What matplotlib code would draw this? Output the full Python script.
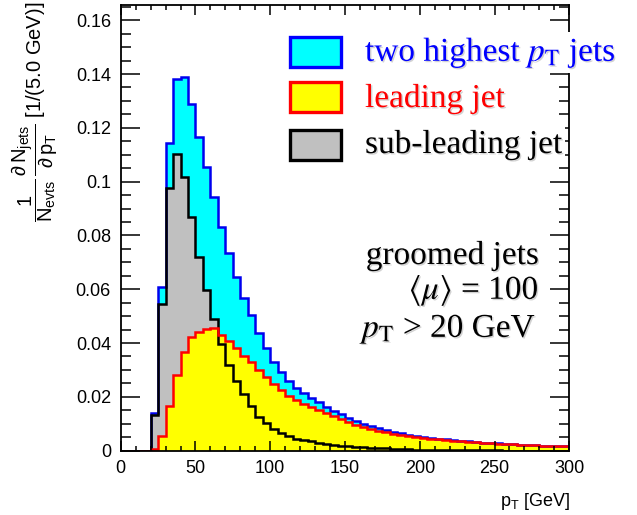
import numpy as np
import matplotlib.pyplot as plt
import matplotlib.patheffects as pe
from matplotlib.patches import Rectangle
from matplotlib.ticker import MultipleLocator, FuncFormatter

plt.rcParams['font.family'] = ['Liberation Sans', 'DejaVu Sans']
plt.rcParams['mathtext.fontset'] = 'custom'
plt.rcParams['mathtext.rm'] = 'Liberation Sans'
plt.rcParams['mathtext.it'] = 'Liberation Sans:italic'

# 5 GeV bins from 0 to 300 GeV
edges = np.arange(0, 305, 5)

two_highest = [0, 0, 0, 0, 0.0139, 0.0609, 0.1142, 0.1381, 0.1390, 0.1287,
               0.1166, 0.1055, 0.0943, 0.0830, 0.0735, 0.0647, 0.0566, 0.0504, 0.0438, 0.0380,
               0.0330, 0.0292, 0.0258, 0.0232, 0.0214, 0.0197, 0.0179, 0.0163, 0.0148, 0.0135,
               0.0123, 0.0111, 0.0100, 0.0091, 0.0083, 0.0076, 0.0070, 0.0064, 0.0059, 0.0055,
               0.0051, 0.0048, 0.0045, 0.0042, 0.0039, 0.0037, 0.0034, 0.0032, 0.0030, 0.0028,
               0.0027, 0.0025, 0.0024, 0.0022, 0.0021, 0.0020, 0.0019, 0.0018, 0.0017, 0.0016]

leading = [0, 0, 0, 0, 0.0006, 0.0056, 0.0165, 0.0281, 0.0368, 0.0421,
           0.0440, 0.0453, 0.0455, 0.0428, 0.0408, 0.0380, 0.0351, 0.0328, 0.0298, 0.0273,
           0.0247, 0.0224, 0.0204, 0.0188, 0.0175, 0.0163, 0.0151, 0.0139, 0.0127, 0.0116,
           0.0107, 0.0097, 0.0088, 0.0081, 0.0074, 0.0068, 0.0063, 0.0058, 0.0054, 0.0051,
           0.0047, 0.0045, 0.0042, 0.0040, 0.0037, 0.0035, 0.0033, 0.0031, 0.0029, 0.0027,
           0.0026, 0.0025, 0.0024, 0.0022, 0.0021, 0.0020, 0.0019, 0.0018, 0.0017, 0.0016]

sub_leading = [0, 0, 0, 0, 0.0132, 0.0545, 0.0975, 0.1101, 0.1018, 0.0867,
               0.0721, 0.0596, 0.0488, 0.0395, 0.0318, 0.0258, 0.0210, 0.0166, 0.0126, 0.0101,
               0.0080, 0.0065, 0.0053, 0.0045, 0.0039, 0.0034, 0.0029, 0.0025, 0.0022, 0.0019,
               0.0016, 0.0014, 0.0012, 0.0010, 0.0009, 0.0008, 0.0007, 0.0006, 0.0005, 0.0004,
               0.0004, 0.0003, 0.0003, 0.0002, 0.0002, 0.0002, 0.0001, 0.0001, 0.0001, 0.0001,
               0.0001, 0, 0, 0, 0, 0, 0, 0, 0, 0]

legend_labels = ['two highest $p_{\\mathrm{T}}$ jets', 'leading jet', 'sub-leading jet']
legend_text_colors = ['#0000ff', '#ff0000', 'black']
legend_face = ['#00ffff', '#ffff00', '#c0c0c0']
legend_edge = ['#0000ff', '#ff0000', 'black']

fig = plt.figure(figsize=(6.37, 5.15), dpi=100)
ax = fig.add_axes([0.1895, 0.125, 0.7042, 0.865])

# fills first, then outlines on top
ax.stairs(two_highest, edges, fill=True, color='#00ffff', lw=0)
ax.stairs(sub_leading, edges, fill=True, color='#c0c0c0', lw=0)
ax.stairs(leading, edges, fill=True, color='#ffff00', lw=0)
ax.stairs(two_highest, edges, color='#0000ee', lw=1.8)
ax.stairs(sub_leading, edges, color='black', lw=1.8)
ax.stairs(leading, edges, color='#ff0000', lw=1.8)

ax.set_xlim(0, 300)
ax.set_ylim(0, 0.1656)
ax.xaxis.set_major_locator(MultipleLocator(50))
ax.xaxis.set_minor_locator(MultipleLocator(10))
ax.yaxis.set_major_locator(MultipleLocator(0.02))
ax.yaxis.set_minor_locator(MultipleLocator(0.005))
ax.yaxis.set_major_formatter(FuncFormatter(lambda v, _: '%g' % round(v, 4)))
ax.tick_params(direction='in', top=True, right=True, which='both', width=1.1, labelsize=13)
ax.tick_params(axis='x', which='major', length=7.5, pad=7)
ax.tick_params(axis='x', which='minor', length=3.8)
ax.tick_params(axis='y', which='major', length=14, pad=7)
ax.tick_params(axis='y', which='minor', length=7)
for s in ax.spines.values():
    s.set_linewidth(1.3)

fig.text(35 / 637, 1 - 2 / 515,
         r'$\dfrac{1}{\mathrm{N}_{\mathrm{evts}}}\,\dfrac{\partial\,\mathrm{N}_{\mathrm{jets}}}{\partial\,\mathrm{p}_{\mathrm{T}}}$ [1/(5.0 GeV)]',
         rotation=90, ha='center', va='top', fontsize=14.5)
fig.text(570 / 637, 1 - 506 / 515, r'$\mathrm{p}_{\mathrm{T}}$ [GeV]',
         ha='right', va='baseline', fontsize=13)

shadow = [pe.SimplePatchShadow(offset=(1, -1), shadow_rgbFace='gray', alpha=0.35), pe.Normal()]

box_tops = [37, 82, 130]
baselines = [61, 107, 153]
for top, base, lab, tc, fc, ec in zip(box_tops, baselines, legend_labels,
                                      legend_text_colors, legend_face, legend_edge):
    fig.patches.append(Rectangle((290 / 637, 1 - (top + 30) / 515), 51 / 637, 30 / 515,
                                 transform=fig.transFigure, facecolor=fc, edgecolor=ec,
                                 lw=2.4))
    fig.text(365 / 637, 1 - base / 515, lab, color=tc, fontsize=24, va='baseline',
             family='Liberation Serif', math_fontfamily='stix', path_effects=shadow,
             bbox=dict(facecolor='white', edgecolor='none', pad=2))

notes = ['groomed jets', r'$\langle\mu\rangle$ = 100', r'$p_{\mathrm{T}}$ > 20 GeV']
note_baselines = [264, 299, 337]
for txt, base in zip(notes, note_baselines):
    fig.text(539 / 637, 1 - base / 515, txt, fontsize=24, ha='right', va='baseline',
             family='Liberation Serif', math_fontfamily='stix', path_effects=shadow)

fig.savefig('out.png', dpi=100)
